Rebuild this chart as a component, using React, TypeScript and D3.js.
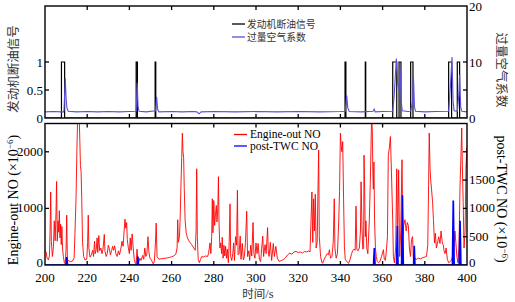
import React from "react";
import * as d3 from "d3";

const W = 515;
const H = 302;

const xTickValues = [200, 220, 240, 260, 280, 300, 320, 340, 360, 380, 400];
const topLeftTicks = [0.5, 1];
const topLeftLabels = [0, 0.5, 1];
const topRightTicks = [5, 10];
const topRightLabels = [0, 10, 20];
const botLeftTicks = [1000, 2000];
const botLeftLabels = [0, 1000, 2000];
const botRightTicks = [500, 1000, 1500, 2000];
const botRightLabels = [0, 500, 1000, 1500];

// fuel cut-off pulses (start / end times, s)
const cutStart = [207.8, 243.2, 252.2, 342.2, 351.8, 364.8, 367.8, 373.3, 391.3, 395.4];
const cutEnd = [209.3, 243.8, 252.5, 342.6, 352.0, 366.7, 368.7, 374.4, 392.7, 396.5];

// excess air ratio
const lambdaT = [200, 204, 207.8, 208.6, 209.0, 209.6, 210.0, 210.4, 211, 215, 220, 225, 230, 235, 240, 243.2, 243.7, 244.1, 244.6, 248, 252.4, 252.9, 253.4, 254, 260, 265, 270, 272, 273, 274, 280, 290, 300, 310, 320, 330, 340, 342.3, 343.0, 343.5, 344.2, 350, 355.5, 356.0, 356.5, 360, 364.8, 365.5, 366.5, 367.2, 367.8, 368.3, 368.8, 369.3, 372, 373.3, 374.2, 374.6, 375.1, 375.6, 380, 385, 391.3, 392.2, 392.9, 393.4, 393.9, 395.4, 396.1, 396.5, 397.0, 397.6, 400];
const lambdaV = [1.1, 1.15, 1.1, 1.05, 1.3, 7.1, 3.5, 1.8, 1.2, 1.1, 1.15, 1.1, 1.15, 1.1, 1.15, 1.2, 6.3, 2.0, 1.2, 1.1, 1.3, 3.8, 1.5, 1.1, 1.15, 1.1, 1.15, 1.1, 0.75, 1.1, 1.15, 1.1, 1.15, 1.1, 1.15, 1.1, 1.15, 1.2, 4.0, 1.8, 1.15, 1.1, 1.2, 1.6, 1.1, 1.15, 1.2, 4.0, 10.6, 6.0, 5.0, 9.0, 3.0, 1.3, 1.15, 1.2, 3.0, 7.7, 2.0, 1.2, 1.1, 1.15, 1.2, 6.0, 10.9, 3.0, 1.3, 1.2, 4.0, 7.7, 2.0, 1.2, 1.1];

// engine-out NO (x10^-6)
const noT = [200, 200.5, 201, 201.6, 202.1, 202.4, 202.7, 203, 203.5, 204, 204.4, 204.8, 205.2, 205.5, 205.8, 206.2, 206.5, 206.8, 207.1, 207.4, 207.7, 208, 208.3, 208.7, 209.2, 209.6, 210, 210.3, 210.6, 211, 212, 213, 213.8, 214.2, 214.7, 215.1, 215.5, 216.2, 216.5, 216.8, 217.1, 217.4, 217.8, 218.3, 219, 219.8, 220.2, 220.5, 220.8, 221.3, 222, 222.6, 223, 223.5, 223.8, 224.3, 224.7, 225, 225.5, 225.9, 226.5, 227, 227.5, 228.1, 228.4, 229, 229.5, 230, 230.4, 231, 231.6, 232, 232.5, 233, 233.6, 234.2, 234.8, 235.3, 236, 236.5, 237, 237.5, 237.9, 238.3, 238.7, 239, 239.5, 240, 240.4, 240.8, 241.3, 241.8, 242.3, 242.8, 243.2, 243.6, 244, 244.5, 245, 245.5, 246.3, 246.8, 247.3, 247.8, 248.3, 248.8, 249.2, 249.7, 250.3, 250.8, 251.3, 251.8, 252.3, 252.7, 253.1, 254, 255, 256, 257, 258, 259, 260, 261, 262, 262.6, 262.9, 263.2, 263.7, 264, 264.5, 264.8, 265.1, 265.4, 265.7, 266, 266.4, 266.9, 267.5, 268.3, 269.5, 270.5, 271.2, 271.6, 271.9, 272.2, 272.6, 273.2, 273.7, 274.3, 275, 276, 277, 277.5, 278.2, 278.6, 279, 279.3, 279.6, 280, 280.4, 280.8, 281.2, 281.5, 281.9, 282.2, 282.5, 282.9, 283.3, 283.7, 284, 284.4, 284.8, 285.2, 285.6, 286, 286.4, 286.9, 287.3, 287.7, 288, 288.5, 289, 289.4, 289.8, 290.3, 290.8, 291.2, 291.5, 292, 292.5, 292.9, 293.5, 294, 294.5, 295, 295.6, 296, 296.6, 297, 297.5, 298, 298.6, 299, 299.5, 300, 300.5, 301, 301.6, 302.2, 302.7, 303.2, 303.6, 304.3, 304.8, 305.5, 305.8, 306.2, 306.8, 307.4, 308.2, 308.7, 309.4, 310.1, 311, 312, 313, 314, 315, 316, 317, 318, 319, 320, 321, 322, 323, 324, 325, 325.6, 326, 326.5, 326.9, 327.3, 327.7, 328.1, 328.5, 329, 329.4, 329.7, 330, 330.6, 331.2, 331.6, 332.3, 333, 333.7, 334.3, 334.8, 335.3, 336, 336.6, 337.1, 337.4, 338, 338.6, 339.2, 339.6, 340, 340.4, 340.7, 341.1, 341.5, 341.9, 342.3, 343, 343.9, 344.6, 345.3, 345.8, 346.4, 347, 347.4, 347.8, 348.3, 349, 349.5, 349.8, 350.2, 350.6, 351, 351.2, 351.5, 351.8, 352.1, 352.5, 353, 353.7, 354.2, 354.8, 355.1, 355.4, 355.6, 355.9, 356.2, 356.6, 357, 357.5, 358, 358.7, 359.5, 360.4, 360.8, 361.3, 361.8, 362.3, 362.7, 363.2, 363.7, 364.2, 364.8, 365.1, 365.6, 366.2, 366.7, 367.1, 367.6, 368.1, 368.6, 369.2, 369.6, 370, 370.6, 371.2, 371.7, 372.2, 372.7, 373.2, 373.7, 374.2, 374.6, 375, 375.5, 376, 377, 378, 379, 380, 380.8, 381.4, 381.8, 382.1, 382.5, 382.8, 383.2, 383.7, 384.1, 384.6, 385, 385.5, 386, 386.6, 387.2, 387.7, 388.3, 388.8, 389.1, 389.6, 390.1, 390.7, 391.3, 392, 392.6, 393.2, 393.8, 394.3, 394.7, 395.2, 395.7, 396.2, 396.7, 397.2, 397.5, 397.8, 398.2, 398.6, 399.1, 399.5, 399.9, 400];
const noV = [250, 230, 120, 90, 160, 600, 1290, 420, 150, 320, 780, 430, 900, 1475, 420, 780, 580, 960, 480, 720, 360, 680, 300, 150, 40, 20, 300, 880, 100, 80, 60, 70, 120, 570, 1170, 2000, 2650, 2650, 2200, 1760, 1650, 1200, 400, 150, 90, 100, 400, 880, 300, 140, 180, 260, 150, 420, 200, 280, 480, 220, 520, 250, 300, 200, 280, 540, 250, 150, 200, 350, 300, 180, 260, 330, 260, 340, 200, 150, 250, 180, 300, 420, 330, 600, 810, 650, 750, 450, 300, 200, 480, 260, 550, 300, 100, 30, 20, 280, 100, 60, 120, 80, 170, 100, 300, 150, 200, 500, 250, 120, 100, 60, 20, 60, 350, 740, 150, 100, 110, 115, 120, 125, 135, 145, 160, 190, 300, 800, 400, 500, 750, 1500, 1900, 2330, 2000, 1900, 1350, 800, 570, 480, 420, 360, 300, 260, 600, 1700, 500, 100, 40, 100, 150, 140, 160, 150, 200, 390, 200, 500, 1170, 570, 1140, 700, 900, 1050, 760, 1000, 1560, 700, 300, 390, 200, 490, 120, 350, 160, 330, 120, 280, 40, 400, 1080, 150, 80, 200, 390, 80, 500, 350, 1320, 180, 200, 510, 100, 380, 90, 150, 400, 950, 150, 250, 80, 350, 160, 750, 200, 120, 390, 200, 380, 100, 60, 300, 510, 150, 360, 200, 660, 250, 150, 400, 80, 380, 150, 330, 120, 60, 80, 95, 130, 180, 210, 190, 230, 240, 220, 230, 210, 240, 230, 250, 230, 700, 1290, 400, 1170, 600, 1250, 300, 400, 1400, 2030, 500, 150, 50, 30, 100, 150, 200, 180, 270, 120, 150, 400, 1170, 300, 120, 200, 760, 1300, 2330, 2100, 2000, 2180, 1170, 330, 100, 60, 30, 100, 200, 250, 280, 260, 1040, 280, 250, 300, 600, 1470, 700, 280, 300, 1940, 1300, 500, 780, 300, 200, 780, 1500, 2650, 2400, 1600, 1340, 1820, 780, 300, 150, 60, 40, 60, 150, 270, 100, 80, 250, 500, 1940, 2070, 2270, 1640, 780, 150, 40, 300, 1700, 380, 1680, 150, 600, 1860, 500, 700, 800, 600, 750, 700, 300, 150, 450, 500, 100, 60, 120, 100, 120, 110, 130, 140, 150, 350, 1400, 2330, 1700, 1500, 1340, 1100, 800, 390, 560, 300, 380, 500, 380, 600, 390, 350, 250, 200, 300, 100, 40, 60, 80, 150, 250, 600, 400, 150, 40, 300, 1400, 2000, 2420, 1760, 1100, 300, 600, 1700, 2070, 1700];

// post-TWC NO (x10^-6)
const twcT = [200, 210.0, 210.3, 210.7, 243.7, 244.0, 244.3, 355.7, 356.1, 356.4, 366.6, 367.0, 367.3, 369.0, 369.4, 369.8, 374.7, 375.0, 375.3, 393.1, 393.5, 393.9, 396.3, 396.7, 397.1, 400];
const twcV = [0, 0, 140, 0, 0, 150, 0, 0, 300, 0, 0, 690, 0, 0, 1230, 0, 0, 340, 0, 0, 1140, 0, 0, 780, 0, 0];

const SERIF = "'Liberation Serif', 'Times New Roman', serif";
const CJK = "'Noto Sans CJK SC', sans-serif";

export default function App() {
  const L = 45, R = 467, T1 = 6, B1 = 118, T2 = 123.5, B2 = 265;
  const x = d3.scaleLinear().domain([200, 400]).range([L, R]);
  const yTL = d3.scaleLinear().domain([0, 2]).range([B1, T1]);
  const yTR = d3.scaleLinear().domain([0, 20]).range([B1, T1]);
  const yB = d3.scaleLinear().domain([0, 2500]).range([B2, T2]);

  const cutPts: [number, number][] = [[200, 0]];
  cutStart.forEach((s, i) => {
    cutPts.push([s, 0], [s, 1], [cutEnd[i], 1], [cutEnd[i], 0]);
  });
  cutPts.push([400, 0]);

  const lineTL = d3.line<[number, number]>().x(d => x(d[0])).y(d => yTL(d[1]));
  const lineTR = d3.line<[number, number]>().x(d => x(d[0])).y(d => yTR(d[1]));
  const lineB = d3.line<[number, number]>().x(d => x(d[0])).y(d => yB(d[1]));

  const lambdaPts = lambdaT.map((t, i) => [t, lambdaV[i]] as [number, number]);
  const noPts = noT.map((t, i) => [t, noV[i]] as [number, number]);
  const twcPts = twcT.map((t, i) => [t, twcV[i]] as [number, number]);

  const tk = 4;
  const innerX = xTickValues.slice(1, -1);

  return (
    <svg width={W} height={H} style={{ position: "absolute", left: 0, top: 0, background: "#fff" }}>
      <defs>
        <clipPath id="clipTop"><rect x={L} y={T1} width={R - L} height={B1 - T1} /></clipPath>
        <clipPath id="clipBot"><rect x={L} y={T2} width={R - L} height={B2 - T2} /></clipPath>
      </defs>
      <rect x={0} y={0} width={W} height={H} fill="#fff" />

      {/* top panel data */}
      <g clipPath="url(#clipTop)">
        <path d={lineTL(cutPts) || ""} fill="none" stroke="#000" strokeWidth={1.2} />
        <path d={lineTR(lambdaPts) || ""} fill="none" stroke="#5a4fd6" strokeWidth={1.1} />
      </g>
      {/* bottom panel data */}
      <g clipPath="url(#clipBot)">
        <path d={lineB(noPts) || ""} fill="none" stroke="#ff0000" strokeWidth={0.9} />
        <path d={lineB(twcPts) || ""} fill="none" stroke="#0000ff" strokeWidth={1.7} />
      </g>

      {/* frames */}
      <rect x={L} y={T1} width={R - L} height={B1 - T1} fill="none" stroke="#000" strokeWidth={1.4} />
      <rect x={L} y={T2} width={R - L} height={B2 - T2} fill="none" stroke="#000" strokeWidth={1.4} />

      {/* ticks */}
      <g stroke="#000" strokeWidth={1.3}>
        {innerX.map(v => (
          <g key={"xt" + v}>
            <line x1={x(v)} x2={x(v)} y1={T1} y2={T1 + tk} />
            <line x1={x(v)} x2={x(v)} y1={B1} y2={B1 - tk} />
            <line x1={x(v)} x2={x(v)} y1={T2} y2={T2 + tk} />
            <line x1={x(v)} x2={x(v)} y1={B2} y2={B2 - tk} />
          </g>
        ))}
        {topLeftTicks.map(v => <line key={"tl" + v} x1={L} x2={L + tk} y1={yTL(v)} y2={yTL(v)} />)}
        {topRightTicks.map(v => <line key={"tr" + v} x1={R} x2={R - tk} y1={yTR(v)} y2={yTR(v)} />)}
        {botLeftTicks.map(v => <line key={"bl" + v} x1={L} x2={L + tk} y1={yB(v)} y2={yB(v)} />)}
        {botRightTicks.map(v => <line key={"br" + v} x1={R} x2={R - tk} y1={yB(v)} y2={yB(v)} />)}
      </g>

      {/* tick labels */}
      <g fontFamily={SERIF} fontSize={13} fill="#000">
        {xTickValues.map(v => (
          <text key={"xl" + v} x={x(v)} y={282} textAnchor="middle">{v}</text>
        ))}
        {topLeftLabels.map(v => (
          <text key={"tll" + v} x={L - 2} y={yTL(v) + 4.5} textAnchor="end">{v}</text>
        ))}
        {topRightLabels.map(v => (
          <text key={"trl" + v} x={R + 2} y={yTR(v) + 4.5} textAnchor="start">{v}</text>
        ))}
        {botLeftLabels.map(v => (
          <text key={"bll" + v} x={L - 2} y={yB(v) + (v === 0 ? 2 : 4)} textAnchor="end">{v}</text>
        ))}
        {botRightLabels.map(v => (
          <text key={"brl" + v} x={R + 2} y={yB(v) + (v === 0 ? 2 : 4)} textAnchor="start">{v}</text>
        ))}
      </g>

      {/* legends */}
      <g>
        <line x1={232} x2={245} y1={24} y2={24} stroke="#000" strokeWidth={1.3} />
        <line x1={232} x2={245} y1={37} y2={37} stroke="#5a4fd6" strokeWidth={1.3} />
        <text x={247} y={27.6} fontFamily={CJK} fontSize={9.8} fill="#333">发动机断油信号</text>
        <text x={247} y={40.6} fontFamily={CJK} fontSize={9.8} fill="#333">过量空气系数</text>
        <line x1={234} x2={247} y1={134.5} y2={134.5} stroke="#ff0000" strokeWidth={1.3} />
        <line x1={234} x2={247} y1={146} y2={146} stroke="#0000ff" strokeWidth={1.3} />
        <text x={250} y={138.3} fontFamily={SERIF} fontSize={11.5} fill="#000">Engine-out NO</text>
        <text x={250} y={149.8} fontFamily={SERIF} fontSize={11.5} fill="#000">post-TWC NO</text>
      </g>

      {/* axis titles */}
      <text transform="translate(18,69) rotate(-90)" textAnchor="middle" fontFamily={CJK} fontSize={12.5} fill="#333">发动机断油信号</text>
      <text transform="translate(497,70) rotate(90)" textAnchor="middle" fontFamily={CJK} fontSize={12.5} fill="#333">过量空气系数</text>
      <text transform="translate(18,200) rotate(-90)" textAnchor="middle" fontFamily={SERIF} fontSize={14} fill="#000">
        Engine-out NO (×10<tspan fontSize={9} dy={-5}>−6</tspan><tspan dy={5}>)</tspan>
      </text>
      <text transform="translate(497,199) rotate(90)" textAnchor="middle" fontFamily={SERIF} fontSize={14} fill="#000">
        post-TWC NO (×10<tspan fontSize={9} dy={-5}>−6</tspan><tspan dy={5}>)</tspan>
      </text>
      <text x={258} y={297.5} textAnchor="middle" fontFamily={CJK} fontSize={11.5} fill="#333">
        时间<tspan fontFamily={SERIF} fontSize={12.5}>/s</tspan>
      </text>
    </svg>
  );
}
